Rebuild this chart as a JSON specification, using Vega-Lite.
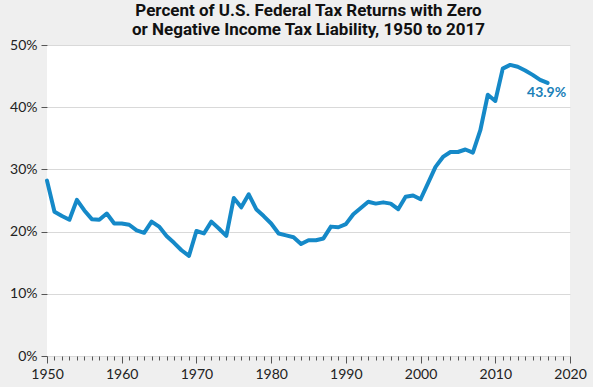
{
  "$schema": "https://vega.github.io/schema/vega-lite/v6.json",
  "autosize": "none",
  "width": 523,
  "height": 311,
  "padding": {"left": 47, "top": 45, "right": 23, "bottom": 31},
  "background": "#efefef",
  "config": {
    "view": {"fill": "white", "stroke": null},
    "font": "Lato"
  },
  "title": {
    "text": ["Percent of U.S. Federal Tax Returns with Zero", "or Negative Income Tax Liability, 1950 to 2017"],
    "font": "Roboto",
    "fontSize": 17,
    "fontWeight": "bold",
    "color": "#111111",
    "lineHeight": 19,
    "anchor": "middle",
    "offset": -1
  },
  "data": {
    "values": [
      {"year": 1950, "pct": 28.2}, {"year": 1951, "pct": 23.2}, {"year": 1952, "pct": 22.5},
      {"year": 1953, "pct": 21.9}, {"year": 1954, "pct": 25.1}, {"year": 1955, "pct": 23.4},
      {"year": 1956, "pct": 22.0}, {"year": 1957, "pct": 21.9}, {"year": 1958, "pct": 22.9},
      {"year": 1959, "pct": 21.3}, {"year": 1960, "pct": 21.3}, {"year": 1961, "pct": 21.1},
      {"year": 1962, "pct": 20.2}, {"year": 1963, "pct": 19.8}, {"year": 1964, "pct": 21.6},
      {"year": 1965, "pct": 20.8}, {"year": 1966, "pct": 19.3}, {"year": 1967, "pct": 18.2},
      {"year": 1968, "pct": 17.0}, {"year": 1969, "pct": 16.1}, {"year": 1970, "pct": 20.1},
      {"year": 1971, "pct": 19.7}, {"year": 1972, "pct": 21.6}, {"year": 1973, "pct": 20.5},
      {"year": 1974, "pct": 19.3}, {"year": 1975, "pct": 25.4}, {"year": 1976, "pct": 23.9},
      {"year": 1977, "pct": 26.0}, {"year": 1978, "pct": 23.6}, {"year": 1979, "pct": 22.5},
      {"year": 1980, "pct": 21.3}, {"year": 1981, "pct": 19.7}, {"year": 1982, "pct": 19.4},
      {"year": 1983, "pct": 19.1}, {"year": 1984, "pct": 18.0}, {"year": 1985, "pct": 18.6},
      {"year": 1986, "pct": 18.6}, {"year": 1987, "pct": 18.9}, {"year": 1988, "pct": 20.8},
      {"year": 1989, "pct": 20.7}, {"year": 1990, "pct": 21.2}, {"year": 1991, "pct": 22.8},
      {"year": 1992, "pct": 23.8}, {"year": 1993, "pct": 24.8}, {"year": 1994, "pct": 24.5},
      {"year": 1995, "pct": 24.7}, {"year": 1996, "pct": 24.5}, {"year": 1997, "pct": 23.6},
      {"year": 1998, "pct": 25.6}, {"year": 1999, "pct": 25.8}, {"year": 2000, "pct": 25.2},
      {"year": 2001, "pct": 27.8}, {"year": 2002, "pct": 30.4}, {"year": 2003, "pct": 32.0},
      {"year": 2004, "pct": 32.8}, {"year": 2005, "pct": 32.8}, {"year": 2006, "pct": 33.2},
      {"year": 2007, "pct": 32.7}, {"year": 2008, "pct": 36.3}, {"year": 2009, "pct": 42.0},
      {"year": 2010, "pct": 41.0}, {"year": 2011, "pct": 46.2}, {"year": 2012, "pct": 46.8},
      {"year": 2013, "pct": 46.5}, {"year": 2014, "pct": 45.9}, {"year": 2015, "pct": 45.2},
      {"year": 2016, "pct": 44.4}, {"year": 2017, "pct": 43.9}
    ]
  },
  "encoding": {
    "x": {
      "field": "year",
      "type": "quantitative",
      "scale": {"domain": [1950, 2020], "nice": false, "zero": false},
      "axis": {
        "title": null,
        "values": [1950,1951,1952,1953,1954,1955,1956,1957,1958,1959,1960,1961,1962,1963,1964,1965,1966,1967,1968,1969,1970,1971,1972,1973,1974,1975,1976,1977,1978,1979,1980,1981,1982,1983,1984,1985,1986,1987,1988,1989,1990,1991,1992,1993,1994,1995,1996,1997,1998,1999,2000,2001,2002,2003,2004,2005,2006,2007,2008,2009,2010,2011,2012,2013,2014,2015,2016,2017,2018,2019,2020],
        "labelExpr": "datum.value % 10 === 0 ? datum.value + '' : ''",
        "labelOverlap": false,
        "labelFlush": false,
        "labelFontSize": 14,
        "labelColor": "#222222",
        "labelPadding": 4,
        "grid": false,
        "domain": false,
        "tickColor": "#555555",
        "tickWidth": 1,
        "tickSize": {"condition": {"test": "datum.value % 10 === 0", "value": 7}, "value": 4}
      }
    },
    "y": {
      "field": "pct",
      "type": "quantitative",
      "scale": {"domain": [0, 50], "nice": false},
      "axis": {
        "title": null,
        "values": [0, 10, 20, 30, 40, 50],
        "labelExpr": "datum.value + '%'",
        "labelFontSize": 14,
        "labelColor": "#222222",
        "labelPadding": 4,
        "tickSize": 6,
        "tickColor": "#555555",
        "domain": false,
        "grid": true,
        "gridColor": "#d9d9d9",
        "gridWidth": 1
      }
    }
  },
  "layer": [
    {
      "mark": {"type": "line", "color": "#1589c8", "strokeWidth": 4, "strokeJoin": "round", "strokeCap": "round"}
    },
    {
      "transform": [
        {"filter": "datum.year === 2017"},
        {"calculate": "format(datum.pct, '.1f') + '%'", "as": "label"}
      ],
      "mark": {"type": "text", "color": "#1a80b8", "fontSize": 14, "fontWeight": "bold", "align": "center", "baseline": "top", "dy": 3, "dx": -1},
      "encoding": {
        "text": {"field": "label", "type": "nominal"},
        "x": {"field": "year", "type": "quantitative"},
        "y": {"field": "pct", "type": "quantitative"}
      }
    }
  ]
}
